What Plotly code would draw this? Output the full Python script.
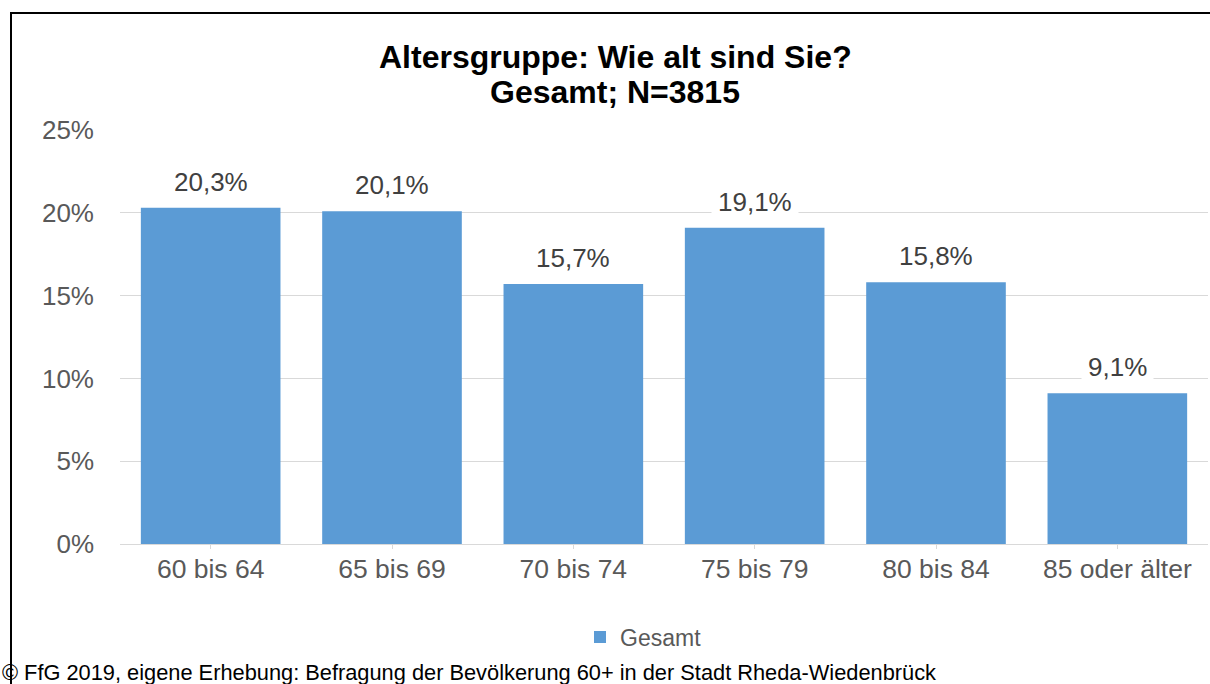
import plotly.graph_objects as go

categories = ["60 bis 64", "65 bis 69", "70 bis 74", "75 bis 79", "80 bis 84", "85 oder älter"]
values = [20.3, 20.1, 15.7, 19.1, 15.8, 9.1]
labels = ["20,3%", "20,1%", "15,7%", "19,1%", "15,8%", "9,1%"]
y_ticks = [0, 5, 10, 15, 20, 25]
y_tick_labels = ["0%", "5%", "10%", "15%", "20%", "25%"]
series_name = "Gesamt"
title_lines = ["Altersgruppe: Wie alt sind Sie?", "Gesamt; N=3815"]
footnote = "© FfG 2019, eigene Erhebung: Befragung der Bevölkerung 60+ in der Stadt Rheda-Wiedenbrück"

FONT = "Liberation Sans, Arial, sans-serif"
W, H = 1210, 684
ML, MR, MT, MB = 120, 2, 130, 140
PW = W - ML - MR
PH = H - MT - MB

def px_x(p):
    return (p - ML) / PW

def px_y(p):
    return (H - MB - p) / PH

fig = go.Figure()
fig.add_trace(go.Bar(
    x=categories, y=values, name=series_name,
    marker=dict(color="#5b9bd5", line=dict(width=0)),
    showlegend=True,
))

annotations = []
for c, v, t in zip(categories, values, labels):
    annotations.append(dict(
        x=c, y=v, xref="x", yref="y", text=t, showarrow=False,
        yanchor="bottom", yshift=4, bgcolor="white", borderpad=6,
        font=dict(family=FONT, size=26, color="#404040"),
    ))

for line, yp in zip(title_lines, [57, 92]):
    annotations.append(dict(
        x=px_x(615), y=px_y(yp), xref="paper", yref="paper",
        text="<b>" + line + "</b>",
        showarrow=False, xanchor="center", yanchor="middle",
        font=dict(family=FONT, size=32, color="black"),
    ))
annotations.append(dict(
    x=px_x(0), y=px_y(672), xref="paper", yref="paper", text=footnote,
    showarrow=False, xanchor="left", yanchor="middle",
    font=dict(family=FONT, size=21.8, color="black"),
))

fig.update_layout(
    width=W, height=H,
    margin=dict(l=ML, r=MR, t=MT, b=MB),
    paper_bgcolor="white", plot_bgcolor="white",
    bargap=0.23,
    font=dict(family=FONT, color="#595959"),
    annotations=annotations,
    legend=dict(orientation="h", x=px_x(580), y=px_y(637), xanchor="left", yanchor="middle",
                font=dict(family=FONT, size=23, color="#595959"), bgcolor="rgba(0,0,0,0)"),
    shapes=[dict(type="rect", xref="paper", yref="paper",
                 x0=px_x(11), x1=px_x(1216), y0=px_y(700), y1=px_y(13),
                 line=dict(color="black", width=2), layer="above")],
    xaxis=dict(showline=True, linecolor="#d9d9d9", linewidth=1, ticks="outside",
               ticklen=4, tickcolor="#d9d9d9", ticklabelstandoff=-3,
               tickfont=dict(family=FONT, size=26.5, color="#595959"),
               showgrid=False),
    yaxis=dict(range=[0, 25], tickvals=y_ticks, ticktext=y_tick_labels,
               showgrid=True, gridcolor="#d9d9d9", gridwidth=1, zeroline=False,
               showline=False, ticks="", ticklabelstandoff=25,
               tickfont=dict(family=FONT, size=26, color="#595959")),
)

fig.write_html("out.html", config={"displayModeBar": False},
               post_script="document.body.style.margin='0';document.body.style.overflow='hidden';")
